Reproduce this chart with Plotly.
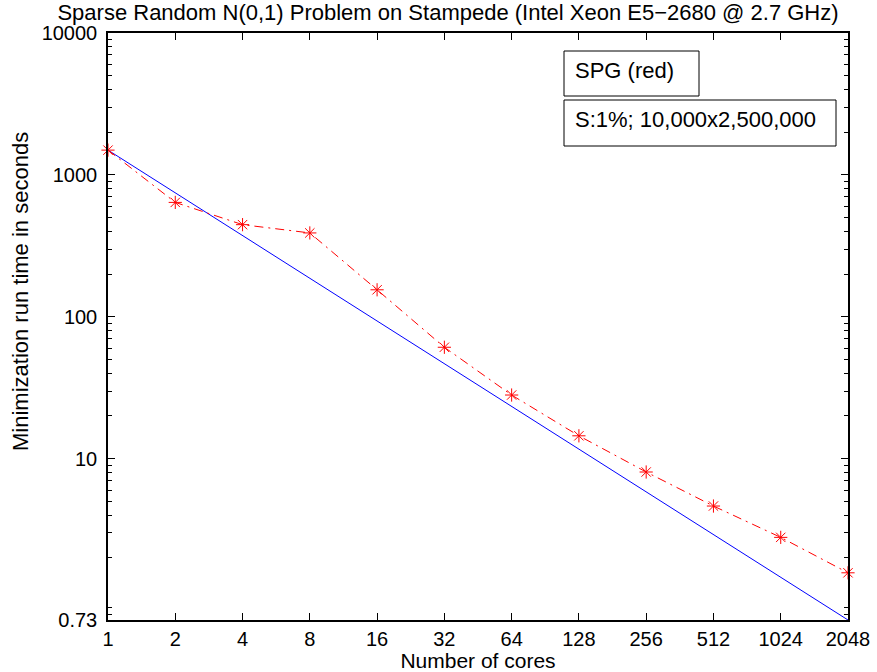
import plotly.graph_objects as go
import math

cores = [1, 2, 4, 8, 16, 32, 64, 128, 256, 512, 1024, 2048]
spg_time = [1495, 640, 446, 390, 155, 61, 28.1, 14.5, 8.06, 4.64, 2.79, 1.57]
ideal_x = [1, 2048]
ideal_y = [1495, 0.73]
x_ticks = cores
y_ticks = [0.73, 10, 100, 1000, 10000]
y_tick_text = ["0.73", "10", "100", "1000", "10000"]
y_minor = [0.8, 0.9] + [v * 10 ** e for e in range(0, 4) for v in range(2, 10)]

title_text = "Sparse Random N(0,1) Problem on Stampede (Intel Xeon E5\u22122680 @ 2.7 GHz)"
legend_lines = ["SPG (red)", "S:1%; 10,000x2,500,000"]

FONT = "Liberation Sans, Arial, Helvetica, sans-serif"
yr = [math.log10(0.73), 4]
W, H = 877, 672

fig = go.Figure()
fig.add_trace(go.Scatter(x=ideal_x, y=ideal_y, mode="lines",
                         line=dict(color="#0000ff", width=1), showlegend=False))
fig.add_trace(go.Scatter(x=cores, y=spg_time, mode="lines+markers", cliponaxis=False,
                         line=dict(color="#ff0000", width=1, dash="9px,5px,2px,5px"),
                         marker=dict(symbol="asterisk-open", size=11, color="#ff0000",
                                     line=dict(color="#ff0000", width=1)),
                         showlegend=False))
# invisible trace to activate minor-tick axis
fig.add_trace(go.Scatter(x=[1], y=[1], yaxis="y2", mode="markers",
                         marker=dict(opacity=0), showlegend=False, hoverinfo="skip"))

fig.update_layout(
    width=W, height=H,
    margin=dict(l=108, r=29, t=33, b=52),
    paper_bgcolor="white", plot_bgcolor="white",
    font=dict(family=FONT, size=19, color="black"),
    title=dict(text=title_text, x=448 / W, xanchor="center", y=1 - 12 / H, yanchor="middle",
               font=dict(size=22)),
    showlegend=False,
    yaxis2=dict(type="log", range=yr, overlaying="y", side="left",
                tickmode="array", tickvals=y_minor, showticklabels=False,
                ticks="inside", ticklen=4, tickcolor="black", tickwidth=1,
                showline=True, linecolor="black", linewidth=1, mirror="ticks",
                showgrid=False, zeroline=False, automargin=False),
)
fig.update_xaxes(type="log", range=[0, math.log10(2048)],
                 tickmode="array", tickvals=x_ticks, ticktext=[str(c) for c in x_ticks],
                 ticks="inside", ticklen=7, tickcolor="black", tickwidth=1,
                 showline=True, linecolor="black", linewidth=1.5, mirror="ticks",
                 showgrid=False, zeroline=False, automargin=False,
                 title=dict(text="Number of cores", standoff=2, font=dict(size=21)),
                 tickfont=dict(size=20))
fig.layout.yaxis.update(type="log", range=yr,
                 tickmode="array", tickvals=y_ticks, ticktext=y_tick_text,
                 ticks="inside", ticklen=7, tickcolor="black", tickwidth=1,
                 showline=True, linecolor="black", linewidth=1.5, mirror="ticks",
                 showgrid=False, zeroline=False, automargin=False,
                 ticklabelstandoff=5,
                 tickfont=dict(size=20))

# y-axis title
fig.add_annotation(xref="paper", yref="paper", x=(20 - 108) / 740, y=(620 - 292) / 587,
                   xanchor="center", yanchor="middle", textangle=-90,
                   text="Minimization run time in seconds", showarrow=False,
                   font=dict(size=22))

# legend boxes (MATLAB-style text legends)
boxes = [(564, 51, 699, 96), (564, 100, 836, 146)]
for (x0, y0, x1, y1), txt in zip(boxes, legend_lines):
    fig.add_shape(type="rect", xref="paper", yref="paper",
                  x0=(x0 - 108) / 740, x1=(x1 - 108) / 740,
                  y0=(620 - y0) / 587, y1=(620 - y1) / 587,
                  line=dict(color="black", width=1), fillcolor="white")
    fig.add_annotation(xref="paper", yref="paper", x=(573 - 108) / 740,
                       y=(620 - (y0 + 19)) / 587, xanchor="left", yanchor="middle",
                       text=txt, showarrow=False, font=dict(size=22))

fig.write_html("out.html")
